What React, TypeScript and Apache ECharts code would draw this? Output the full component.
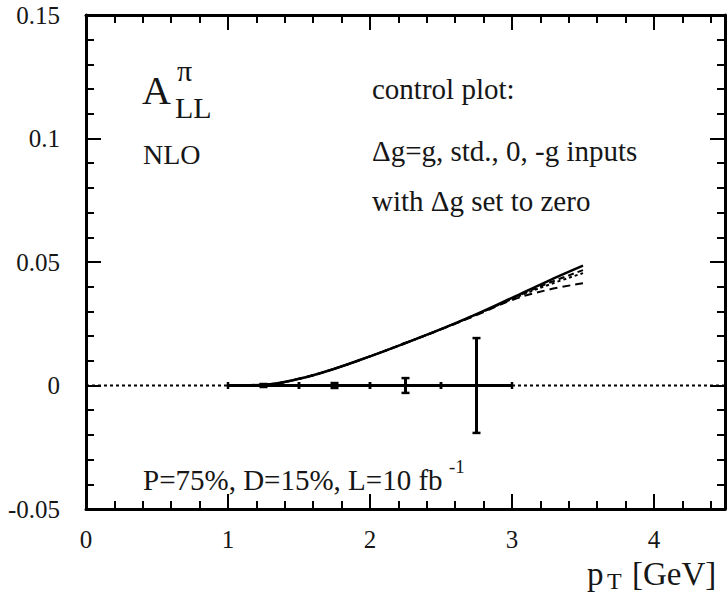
import React, { useEffect, useRef } from "react";
import * as echarts from "echarts";

// ---- data ----
const ptValues = [1.0, 1.25, 1.5, 1.75, 2.0, 2.25, 2.5, 2.75, 3.0, 3.25, 3.5];
const allStdSolid = [0, 0.0003, 0.0027, 0.0068, 0.0118, 0.0172, 0.0228, 0.0289, 0.0355, 0.0422, 0.0485];
const allDashA = [0, 0.0003, 0.0027, 0.0068, 0.0118, 0.0172, 0.0228, 0.0288, 0.0352, 0.0413, 0.0467];
const allDashB = [0, 0.0003, 0.0027, 0.0068, 0.0118, 0.0172, 0.0228, 0.0287, 0.035, 0.0406, 0.0455];
const allDashC = [0, 0.0003, 0.0027, 0.0068, 0.0118, 0.0172, 0.0227, 0.0285, 0.0346, 0.0387, 0.0414];

const binCenters = [1.25, 1.75, 2.25, 2.75];
const binHalfWidths = [0.25, 0.25, 0.25, 0.25];
const binValues = [0, 0, 0, 0];
const binErrors = [0.0006, 0.001, 0.003, 0.0192];

const zeroLineX = [0, 4.5];
const xTickLabels = ["0", "1", "2", "3", "4"];

const FONT = "Liberation Serif, DejaVu Serif, serif";
const INK = "#161616";

function pairs(xs: number[], ys: number[]) {
  return xs.map((x, i) => [x, ys[i]]);
}

function txt(text: string, x: number, y: number, size: number) {
  return {
    type: "text",
    x,
    y,
    silent: true,
    style: {
      text,
      fontSize: size,
      fontFamily: FONT,
      fill: INK,
      textAlign: "left",
      textVerticalAlign: "middle",
      align: "left",
      verticalAlign: "middle",
    },
  };
}

export default function App() {
  const ref = useRef<HTMLDivElement>(null);

  useEffect(() => {
    const chart = echarts.init(ref.current as HTMLDivElement, null, { renderer: "svg" });

    const lineCol = "#000";
    const baseX = {
      type: "value",
      min: 0,
      max: 4.5,
      splitLine: { show: false },
    };
    const majorX = (position: string, labels: boolean) => ({
      ...baseX,
      position,
      interval: 1,
      axisLine: { show: true, onZero: false, lineStyle: { color: lineCol, width: 3 } },
      axisTick: { show: true, inside: true, length: 15, lineStyle: { color: lineCol, width: 2 } },
      axisLabel: {
        show: labels,
        fontSize: 25,
        fontFamily: FONT,
        color: INK,
        margin: 18,
        formatter: (v: number) => {
          const i = Math.round(v);
          return Math.abs(v - i) < 1e-9 && i < xTickLabels.length ? xTickLabels[i] : "";
        },
      },
    });
    const minorX = (position: string) => ({
      ...baseX,
      position,
      interval: 0.2,
      axisLine: { show: false, onZero: false },
      axisTick: { show: true, inside: true, length: 8, lineStyle: { color: lineCol, width: 2 } },
      axisLabel: { show: false },
    });
    const yAxisCfg = (position: string, labels: boolean) => ({
      type: "value",
      position,
      min: -0.05,
      max: 0.15,
      interval: 0.05,
      splitLine: { show: false },
      axisLine: { show: true, onZero: false, lineStyle: { color: lineCol, width: 3 } },
      axisTick: { show: true, inside: true, length: 15, lineStyle: { color: lineCol, width: 2 } },
      minorTick: { show: true, splitNumber: 5, length: 8, lineStyle: { color: lineCol, width: 2 } },
      axisLabel: {
        show: labels,
        fontSize: 25,
        fontFamily: FONT,
        color: INK,
        margin: 26,
      },
    });

    const curve = (name: string, ys: number[], width: number, type: any) => ({
      name,
      type: "line",
      xAxisIndex: 0,
      yAxisIndex: 0,
      data: pairs(ptValues, ys),
      smooth: 0.4,
      showSymbol: false,
      symbol: "none",
      lineStyle: { color: lineCol, width, type },
      z: 3,
    });

    const option: any = {
      animation: false,
      backgroundColor: "#fff",
      textStyle: { fontFamily: FONT },
      grid: { left: 86, top: 15, width: 641, height: 494, containLabel: false },
      xAxis: [majorX("bottom", true), minorX("bottom"), majorX("top", false), minorX("top")],
      yAxis: [yAxisCfg("left", true), yAxisCfg("right", false)],
      series: [
        {
          name: "zero",
          type: "line",
          xAxisIndex: 0,
          yAxisIndex: 0,
          data: pairs(zeroLineX, [0, 0]),
          showSymbol: false,
          symbol: "none",
          lineStyle: { color: lineCol, width: 2, type: [3, 3] },
          z: 2,
        },
        curve("dg=g", allDashA, 2, [6, 4]),
        curve("dg=0", allDashB, 2, [3, 3]),
        curve("dg=-g", allDashC, 2, [8, 5]),
        curve("std", allStdSolid, 2.5, "solid"),
        {
          name: "errors",
          type: "custom",
          xAxisIndex: 0,
          yAxisIndex: 0,
          z: 4,
          encode: { x: 0, y: 1 },
          data: binCenters.map((c, i) => [c, binValues[i], binErrors[i], binHalfWidths[i]]),
          renderItem: (params: any, api: any) => {
            const x = api.value(0);
            const y = api.value(1);
            const e = api.value(2);
            const hw = api.value(3);
            const pL = api.coord([x - hw, y]);
            const pR = api.coord([x + hw, y]);
            const pT = api.coord([x, y + e]);
            const pB = api.coord([x, y - e]);
            const st = { stroke: lineCol, lineWidth: 3 };
            const cap = { stroke: lineCol, lineWidth: 2.5 };
            return {
              type: "group",
              children: [
                { type: "line", shape: { x1: pL[0], y1: pL[1], x2: pR[0], y2: pR[1] }, style: st },
                { type: "line", shape: { x1: pL[0], y1: pL[1] - 3.5, x2: pL[0], y2: pL[1] + 3.5 }, style: cap },
                { type: "line", shape: { x1: pR[0], y1: pR[1] - 3.5, x2: pR[0], y2: pR[1] + 3.5 }, style: cap },
                { type: "line", shape: { x1: pT[0], y1: pT[1], x2: pB[0], y2: pB[1] }, style: st },
                { type: "line", shape: { x1: pT[0] - 4, y1: pT[1], x2: pT[0] + 4, y2: pT[1] }, style: cap },
                { type: "line", shape: { x1: pB[0] - 4, y1: pB[1], x2: pB[0] + 4, y2: pB[1] }, style: cap },
              ],
            };
          },
        },
      ],
      graphic: [
        txt("A", 142, 90, 40),
        txt("π", 177, 70, 30),
        txt("LL", 175, 107, 30),
        txt("NLO", 143, 154, 28),
        txt("control plot:", 372, 89, 29),
        txt("Δg=g, std., 0, -g inputs", 372, 151, 29),
        txt("with Δg set to zero", 372, 201, 29),
        txt("P=75%, D=15%, L=10 fb", 143, 480, 29),
        txt("-1", 449, 466, 19),
        txt("p", 587, 574, 33),
        txt("T", 607, 581, 24),
        txt("[GeV]", 632, 574, 33),
      ],
    };

    chart.setOption(option);
    return () => chart.dispose();
  }, []);

  return (
    <div
      ref={ref}
      style={{ position: "absolute", left: 0, top: 0, width: 728, height: 596, background: "#fff" }}
    />
  );
}
